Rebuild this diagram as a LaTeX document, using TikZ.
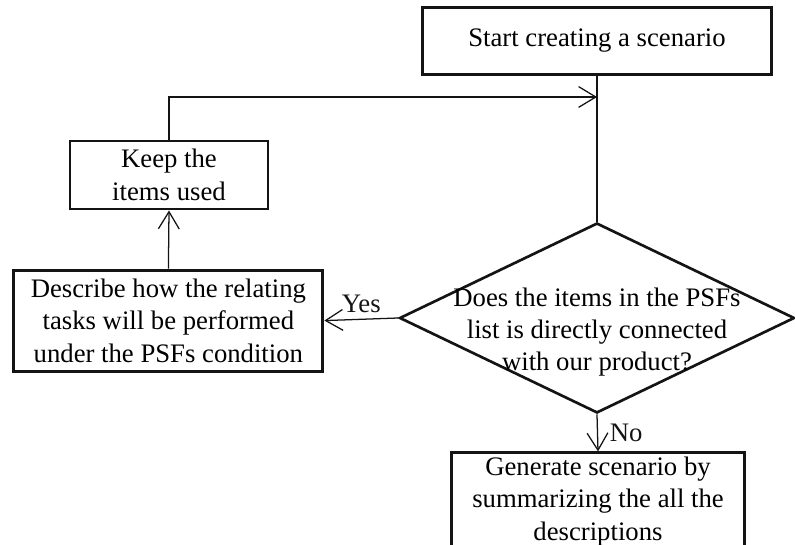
\documentclass[tikz,border=0pt]{standalone}
\usepackage{fontspec}
\setmainfont{Liberation Serif}
\usepackage{tikz}
\usetikzlibrary{shapes.geometric, arrows.meta, positioning}
\definecolor{linegray}{RGB}{20,20,20}
\tikzset{
  block/.style={rectangle, draw=linegray, line width=2.1pt, align=center,
    inner sep=2pt},
  decision/.style={diamond, draw=linegray, line width=1.9pt,
    minimum width=9.875cm, minimum height=4.75cm, inner sep=0pt},
  arrow/.style={-{Straight Barb[length=4.3mm, width=5.2mm]}, line width=0.9pt,
    color=linegray},
  line/.style={line width=0.9pt, color=linegray},
}

\begin{document}
\begin{tikzpicture}[font=\fontsize{19}{23}\selectfont]
  \useasboundingbox (0,0) rectangle (19.875,13.625);
  % Boxes
  \node[block, minimum width=8.725cm, minimum height=1.675cm] (start)
    at (14.925,12.61) {Start creating a scenario};
  \node[block, minimum width=4.95cm, minimum height=1.7cm] (keep)
    at (4.225,9.25) {Keep the\\items used};
  \node[block, minimum width=7.725cm, minimum height=2.525cm] (desc)
    at (4.21,5.61) {Describe how the relating\\tasks will be performed\\under the PSFs condition};
  \node[decision] (dec) at (14.925,5.675) {};
  \node[align=center, inner sep=0pt] (dectext) at ([yshift=-0.35cm]dec.center)
    {Does the items in the PSFs\\list is directly connected\\with our product?};
  \node[block, minimum width=7.325cm, minimum height=2.425cm] (gen)
    at (14.95,1.09) {Generate scenario by\\summarizing the all the\\descriptions};
  % Connectors
  \coordinate (merge) at (14.925,11.2);
  \draw[line] (start.south) -- (dec.north);
  \draw[arrow] (keep.north) |- (merge);
  \draw[arrow] (desc.north) -- (keep.south);
  \draw[arrow] (dec.west) -- node[above=1pt] (yes) {Yes} (desc.east);
  \draw[arrow] (dec.south) -- node[right=5pt] (no) {No} (gen.north);
\end{tikzpicture}
\end{document}
